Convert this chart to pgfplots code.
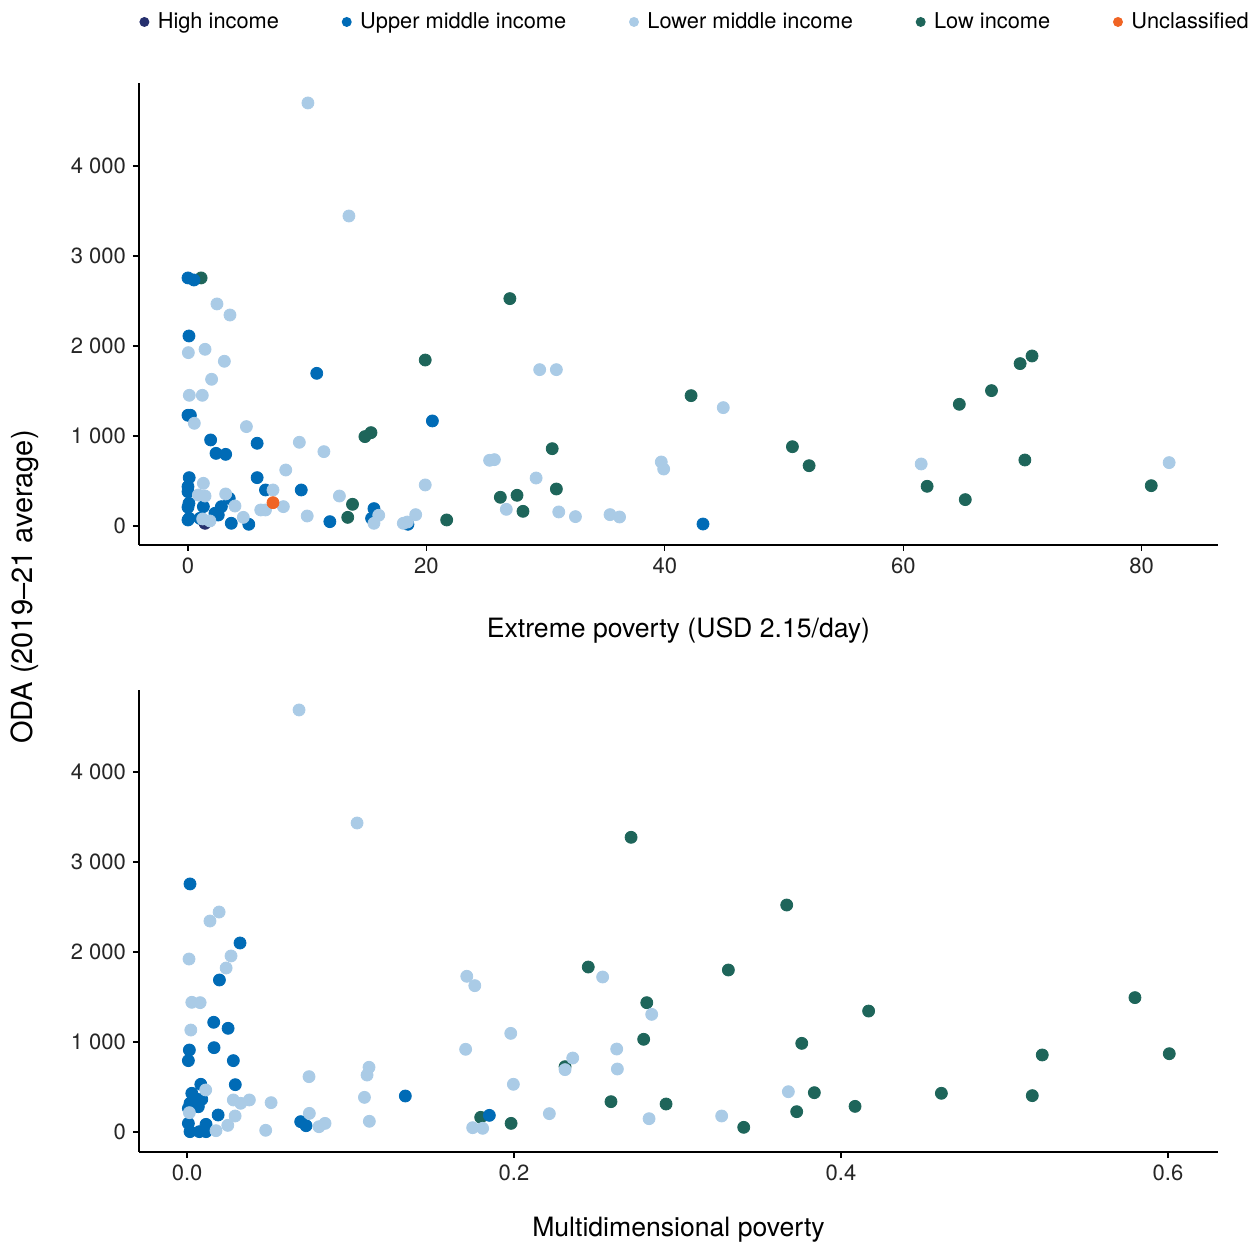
\documentclass[border=0pt]{standalone}
\usepackage{fontspec}
\setmainfont{TeX Gyre Heros}
\usepackage{pgfplots}
\pgfplotsset{compat=1.18}
\definecolor{cHigh}{RGB}{38,48,110}
\definecolor{cUpper}{RGB}{0,107,182}
\definecolor{cLower}{RGB}{170,203,230}
\definecolor{cLow}{RGB}{30,101,90}
\definecolor{cUnc}{RGB}{240,100,36}

\pgfplotsset{
  common/.style={
    scale only axis, width=539.5pt, height=231pt,
    axis x line=bottom, axis y line=left,
    axis line style={-, line width=0.6pt, black},
    tick align=outside, major tick length=3pt,
    tick style={black, line width=0.6pt},
    ticklabel style={font=\fontsize{11}{13}\selectfont, text=black!85},
    label style={font=\fontsize{13.3}{16}\selectfont},
    ytick={0,1000,2000,3000,4000},
    yticklabels={0,1 000,2 000,3 000,4 000},
    /pgf/number format/assume math mode=true,
  },
  dot/.style={only marks, mark=*, mark size=3pt, color=#1, mark options={draw=none, fill=#1}, forget plot},
}

\begin{document}
\begin{tikzpicture}
\useasboundingbox (0,0) rectangle (626.5pt,622.5pt);

% ---------------- top panel ----------------
\begin{axis}[common,
  at={(69.5pt,350pt)}, anchor=south west,
  xmin=-4.11, xmax=86.4, ymin=-211, ymax=4922,
  xtick={0,20,40,60,80}, xticklabels={0,20,40,60,80},
  xlabel={Extreme poverty (USD 2.15/day)},
  xlabel style={at={(axis description cs:0.5,0)}, anchor=center, yshift=-42.5pt},
  legend style={at={(axis description cs:0,1)}, anchor=west, xshift=0pt, yshift=30.5pt,
    draw=none, fill=none, legend columns=5, inner sep=0pt,
    font=\fontsize{10.9}{13}\selectfont,
    /tikz/every even column/.append style={column sep=29.4pt},
    /tikz/every odd column/.append style={column sep=2.2pt}},
  legend cell align=left,
  legend image code/.code={\fill[#1, draw=none] (0pt,0pt) circle (2.5pt);},
]
\addlegendimage{color=cHigh}\addlegendentry{High income}
\addlegendimage{color=cUpper}\addlegendentry{Upper middle income}
\addlegendimage{color=cLower}\addlegendentry{Lower middle income}
\addlegendimage{color=cLow}\addlegendentry{Low income}
\addlegendimage{color=cUnc}\addlegendentry{Unclassified}

\addplot[dot=cLow] table {
x y
1.1 2756
27.0 2526
19.9 1844
14.84 993
15.35 1037
13.8 241
13.4 96
21.7 67
42.2 1448
50.7 881
52.1 670
30.55 859
30.9 411
26.2 319
27.6 341
28.1 163
70.8 1889
69.8 1804
67.4 1504
64.7 1352
70.2 733
62.0 441
65.2 293
80.8 448
};
\addplot[dot=cHigh] table {
x y
1.43 30
};
\addplot[dot=cUpper] table {
x y
0 2756
0.5 2733
0.08 2111
10.8 1696
0 1230
0.2 1230
20.5 1167
1.9 956
5.8 919
2.35 807
3.16 796
0.1 537
5.8 537
0 437
0 381
6.5 400
9.5 400
3.46 307
0.08 252
0 208
1.29 215
2.8 215
2.26 141
2.54 122
0 67
0.1 85
1.0 85
3.63 30
5.1 19
11.9 48
15.6 193
15.4 85
18.45 19
43.2 22
};
\addplot[dot=cLower] table {
x y
10.06 4700
13.5 3444
2.43 2467
3.52 2344
0.03 1926
1.43 1963
3.05 1830
1.98 1630
0.11 1452
1.2 1452
0.53 1141
4.9 1104
9.34 930
11.4 826
8.2 622
19.9 456
1.29 474
7.13 400
0.87 344
1.43 333
3.16 356
12.7 333
3.94 222
6.1 178
6.5 178
8.0 215
4.64 96
10.0 111
1.23 78
1.84 56
16.0 119
15.6 30
18.06 30
19.1 126
18.4 44
25.3 730
25.7 737
29.5 1737
30.9 1737
29.2 533
26.7 185
31.1 156
32.5 104
35.4 126
36.2 100
39.7 711
39.9 633
44.9 1315
61.5 689
82.3 704
};
\addplot[dot=cUnc] table {
x y
7.13 259
};
\end{axis}

% ---------------- bottom panel ----------------
\begin{axis}[common,
  at={(69.5pt,46.5pt)}, anchor=south west,
  xmin=-0.0294, xmax=0.6306, ymin=-222, ymax=4911,
  xtick={0,0.2,0.4,0.6}, xticklabels={0.0,0.2,0.4,0.6},
  xlabel={Multidimensional poverty},
  xlabel style={at={(axis description cs:0.5,0)}, anchor=center, yshift=-39pt},
]
\addplot[dot=cLow] table {
x y
0.2716 3274
0.3668 2522
0.2454 1833
0.3311 1800
0.2812 1437
0.2793 1030
0.376 985
0.2312 726
0.3837 437
0.3729 226
0.2593 337
0.293 311
0.3405 52
0.1796 163
0.1982 96
0.4169 1344
0.5798 1493
0.5231 856
0.6008 870
0.4086 285
0.4614 430
0.517 404
};
\addplot[dot=cUpper] table {
x y
0.0018 2756
0.0324 2100
0.0198 1689
0.0163 1219
0.0251 1152
0.0014 911
0.0165 937
0.0008 793
0.0283 793
0.0084 530
0.0295 526
0.0029 430
0.0049 374
0.009 363
0.0018 319
0.0069 281
0.0008 263
0.1335 400
0.019 189
0.0695 115
0.0728 70
0.0008 96
0.0018 4
0.0075 4
0.0116 85
0.0116 4
0.1849 185
};
\addplot[dot=cLower] table {
x y
0.0685 4689
0.104 3433
0.0196 2444
0.014 2344
0.0269 1956
0.0239 1822
0.0012 1922
0.0029 1441
0.008 1437
0.0023 1133
0.0746 615
0.1113 719
0.1101 633
0.0114 467
0.0283 356
0.0328 319
0.0381 356
0.0514 326
0.1085 385
0.0014 215
0.0294 178
0.0748 207
0.1115 119
0.0807 59
0.0844 96
0.0249 74
0.0177 15
0.0481 19
0.1711 1730
0.176 1626
0.2542 1722
0.2842 1307
0.198 1096
0.1704 919
0.2628 922
0.2632 700
0.2359 822
0.2312 693
0.1996 530
0.3678 448
0.2216 204
0.2826 148
0.327 178
0.1747 48
0.1808 41
};
\end{axis}

\node[rotate=90, font=\fontsize{14.5}{17}\selectfont] at (12.5pt,329pt) {ODA (2019--21 average)};
\end{tikzpicture}
\end{document}
